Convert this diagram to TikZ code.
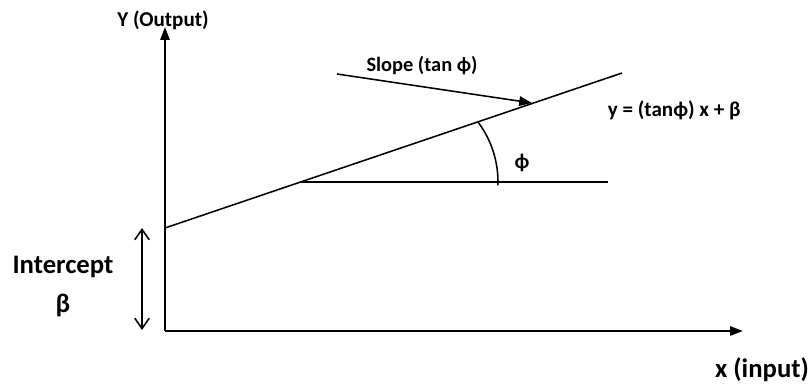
\documentclass[tikz,border=0pt]{standalone}
\usepackage{fontspec}
\setmainfont{Carlito}
\usetikzlibrary{arrows.meta}
\tikzset{
  lbl/.style={inner sep=0pt},
  axis/.style={line width=1.2pt, -{Triangle[length=3.2mm, width=2.3mm]}},
}
\newcommand{\lblfont}[1]{\bfseries\fontsize{#1}{#1}\selectfont}
\begin{document}
\begin{tikzpicture}[x=0.025cm, y=-0.025cm, line width=1.1pt]
        \useasboundingbox (0,0) rectangle (811,385);
        % define point
        \coordinate (O)  at (165, 331);
        \coordinate (Y)  at (165, 27);
        \coordinate (X)  at (743, 331);
        \coordinate (B)  at (165, 228);
        \coordinate (E)  at (622, 73);
        \coordinate (P)  at (300, 182);
        \coordinate (H)  at (608, 182);
        \coordinate (C)  at (398, 182);
        \coordinate (S)  at (337, 74);
        \coordinate (T)  at (532, 103);
        \coordinate (I1) at (142, 228);
        \coordinate (I2) at (142, 330);
        % axes
        \draw[axis] (O) -- (Y);
        \draw[axis] (O) -- (X);
        % line and angle
        \draw (B) -- (E);
        \draw (P) -- (H);
        \draw (C) ++(2:100) arc [start angle=2, end angle=-36.9, radius=100];
        \draw[-{Triangle[length=3.2mm, width=2.4mm]}] (S) -- (T);
        \draw[{Straight Barb[length=2.6mm, width=3.6mm]}-{Straight Barb[length=2.6mm, width=3.6mm]}] (I1) -- (I2);
        % labels
        \node[lbl, font=\lblfont{15}] (ylab) at (163, 20) {Y (Output)};
        \node[lbl, font=\lblfont{14.5}] (slab) at (422, 66) {Slope (tan ϕ)};
        \node[lbl, font=\lblfont{15}, anchor=west] (eq) at (607, 110) {y = (tanϕ) x + β};
        \node[lbl, font=\lblfont{15}] (phi) at (522, 163) {ϕ};
        \node[lbl, font=\lblfont{19}] (ilab) at (63, 267) {Intercept};
        \node[lbl, font=\lblfont{19}] (beta) at (63, 305) {β};
        \node[lbl, font=\lblfont{19}] (xlab) at (762, 370) {x (input)};
\end{tikzpicture}
\end{document}
